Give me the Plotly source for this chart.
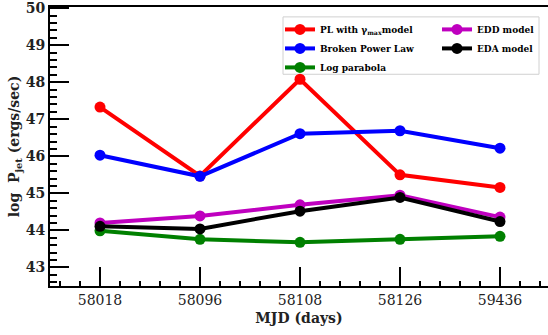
import plotly.graph_objects as go

mjd_labels = ["58018", "58096", "58108", "58126", "59436"]
pl_gmax = [47.33, 45.47, 48.08, 45.50, 45.16]
broken_pl = [46.03, 45.46, 46.61, 46.69, 46.22]
log_parabola = [43.99, 43.76, 43.68, 43.76, 43.84]
edd_model = [44.20, 44.39, 44.69, 44.95, 44.36]
eda_model = [44.11, 44.04, 44.52, 44.89, 44.24]

FONT = "DejaVu Serif"
xpos = list(range(len(mjd_labels)))

series = [
    ("PL with γ<sub>max</sub>model", pl_gmax, "#ff0000", "legend"),
    ("Broken Power Law", broken_pl, "#0000ff", "legend"),
    ("Log parabola", log_parabola, "#008000", "legend"),
    ("EDD model", edd_model, "#bf00bf", "legend2"),
    ("EDA model", eda_model, "#000000", "legend2"),
]

fig = go.Figure()
for name, vals, col, lg in series:
    fig.add_trace(go.Scatter(
        x=xpos, y=vals, name=name, mode="lines+markers",
        line=dict(color=col, width=4), marker=dict(color=col, size=11),
        legend=lg,
    ))

W, H = 548, 335
ml, mr, mt, mb = 50, 0, 4, 49
pw = W - ml - mr
ph = H - mt - mb

def px_x(p):
    return (p - ml) / pw

def px_y(p):
    return 1 - (p - mt) / ph

legfont = dict(family=FONT, size=9, color="black", weight="bold")

fig.update_layout(
    width=W, height=H,
    margin=dict(l=ml, r=mr, t=mt, b=mb),
    paper_bgcolor="white", plot_bgcolor="white",
    showlegend=True,
    legend=dict(x=px_x(280), y=px_y(12), xanchor="left", yanchor="top",
                bgcolor="rgba(0,0,0,0)", borderwidth=0, font=legfont,
                tracegroupgap=0),
    legend2=dict(x=px_x(437), y=px_y(12), xanchor="left", yanchor="top",
                 bgcolor="rgba(0,0,0,0)", borderwidth=0, font=legfont,
                 tracegroupgap=0),
    shapes=[dict(type="rect", xref="paper", yref="paper",
                 x0=px_x(283), x1=px_x(539), y0=px_y(14), y1=px_y(72),
                 line=dict(color="#d0d0d0", width=1), fillcolor="rgba(255,255,255,0.8)",
                 layer="below")],
    xaxis=dict(
        range=[-0.5, 4.48], tickmode="array", tickvals=xpos, ticktext=mjd_labels,
        showgrid=False, zeroline=False, showline=True, linecolor="black", linewidth=2,
        mirror=True,
        ticks="inside", ticklen=19, tickwidth=1.5, tickcolor="black",
        minor=dict(ticks="inside", dtick=0.2, tick0=0, ticklen=5, tickwidth=1.5,
                   tickcolor="black", showgrid=False),
        tickfont=dict(family=FONT, size=14, color="#222"),
        title=dict(text="MJD (days)", font=dict(family=FONT, size=14, color="#222", weight="bold"),
                   standoff=6),
    ),
    yaxis=dict(
        range=[42.5, 50.03], tickmode="array", tickvals=[43, 44, 45, 46, 47, 48, 49, 50],
        showgrid=False, zeroline=False, showline=True, linecolor="black", linewidth=2,
        ticks="inside", ticklen=19, tickwidth=1.5, tickcolor="black",
        minor=dict(ticks="inside", dtick=0.2, tick0=43, ticklen=7, tickwidth=1.5,
                   tickcolor="black", showgrid=False),
        tickfont=dict(family=FONT, size=14, color="#222", weight="bold"),
        ticklabelstandoff=0, ticklabeloverflow="allow",
        title=dict(text="log  P<sub>jet</sub> (ergs/sec)",
                   font=dict(family=FONT, size=14, color="#222", weight="bold"),
                   standoff=3),
    ),
)

fig.write_html("out.html")
